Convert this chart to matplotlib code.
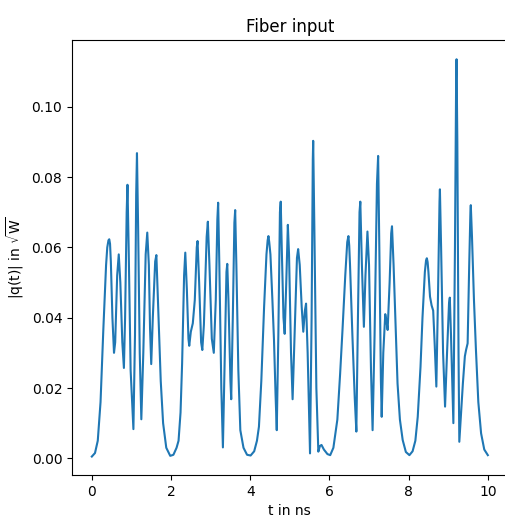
import numpy as np
import matplotlib
matplotlib.use('Agg')
import matplotlib.pyplot as plt

# values (t in ns, |q(t)| in sqrt(W))
t_ns = [0.00, 0.08, 0.15, 0.22, 0.29, 0.36, 0.39, 0.42, 0.44, 0.46, 0.48, 0.52, 0.56, 0.59,
        0.64, 0.68, 0.72, 0.77, 0.81, 0.84, 0.88, 0.90, 0.93, 0.98, 1.05, 1.09,
        1.12, 1.14, 1.17, 1.21, 1.25, 1.30, 1.36, 1.40, 1.44, 1.47, 1.50, 1.54,
        1.60, 1.63, 1.67, 1.74, 1.80, 1.88, 1.98, 2.06, 2.14, 2.19, 2.24, 2.28,
        2.33, 2.36, 2.40, 2.44, 2.46, 2.50, 2.55, 2.60, 2.65, 2.67, 2.71, 2.76,
        2.79, 2.83, 2.90, 2.93, 2.97, 3.03, 3.08, 3.13, 3.17, 3.19, 3.22, 3.27,
        3.31, 3.35, 3.40, 3.42, 3.45, 3.50, 3.52, 3.56, 3.60, 3.62, 3.65, 3.70,
        3.75, 3.83, 3.92, 4.01, 4.10, 4.17, 4.22, 4.28, 4.35, 4.41, 4.44, 4.46, 4.48, 4.51,
        4.56, 4.60, 4.64, 4.67, 4.71, 4.75, 4.77, 4.80, 4.84, 4.87, 4.91, 4.95,
        4.98, 5.03, 5.07, 5.12, 5.18, 5.21, 5.25, 5.30, 5.34, 5.38, 5.41, 5.45,
        5.51, 5.55, 5.58, 5.59, 5.62, 5.67, 5.72, 5.76, 5.80, 5.86, 5.95, 6.02,
        6.10, 6.20, 6.27, 6.33, 6.40, 6.45, 6.48, 6.50, 6.52, 6.58, 6.64, 6.68, 6.72,
        6.76, 6.78, 6.82, 6.87, 6.91, 6.96, 7.00, 7.05, 7.09, 7.14, 7.20, 7.23,
        7.26, 7.30, 7.32, 7.36, 7.41, 7.44, 7.47, 7.52, 7.56, 7.58, 7.62, 7.67,
        7.72, 7.78, 7.85, 7.93, 8.02, 8.10, 8.17, 8.23, 8.30, 8.35, 8.41, 8.44, 8.46,
        8.48, 8.50, 8.54, 8.58, 8.62, 8.66, 8.70, 8.74, 8.78, 8.79, 8.82, 8.87, 8.92,
        8.97, 9.02, 9.04, 9.07, 9.13, 9.17, 9.20, 9.21, 9.23, 9.26, 9.28, 9.32,
        9.37, 9.42, 9.45, 9.49, 9.53, 9.56, 9.57, 9.60, 9.65, 9.70, 9.76, 9.83,
        9.91, 10.00]
amp = [0.0005, 0.0015, 0.005, 0.016, 0.0365, 0.055, 0.0600, 0.0620, 0.0623, 0.0610, 0.056, 0.040, 0.030, 0.033,
       0.052, 0.058, 0.050, 0.033, 0.0257, 0.040, 0.070, 0.0778, 0.060, 0.025, 0.0083, 0.035,
       0.075, 0.0868, 0.065, 0.030, 0.0111, 0.030, 0.058, 0.0642, 0.055, 0.037, 0.0268, 0.040,
       0.056, 0.0578, 0.045, 0.022, 0.010, 0.003, 0.0007, 0.001, 0.003, 0.005, 0.013, 0.027,
       0.052, 0.0585, 0.048, 0.034, 0.032, 0.036, 0.0384, 0.045, 0.060, 0.0618, 0.050, 0.033,
       0.0308, 0.038, 0.063, 0.0673, 0.055, 0.034, 0.030, 0.045, 0.068, 0.0727, 0.055, 0.020,
       0.0031, 0.025, 0.053, 0.0553, 0.045, 0.022, 0.0168, 0.040, 0.067, 0.0706, 0.055, 0.025,
       0.008, 0.003, 0.001, 0.0008, 0.002, 0.005, 0.009, 0.022, 0.043, 0.058, 0.0620, 0.0632, 0.0615, 0.058,
       0.045, 0.0337, 0.018, 0.008, 0.035, 0.070, 0.073, 0.058, 0.040, 0.0354, 0.050, 0.0664,
       0.058, 0.030, 0.0168, 0.035, 0.057, 0.0595, 0.055, 0.043, 0.036, 0.042, 0.044, 0.030,
       0.0014, 0.040, 0.085, 0.0903, 0.065, 0.020, 0.0019, 0.0035, 0.0038, 0.0025, 0.0012, 0.0009,
       0.003, 0.011, 0.024, 0.0365, 0.052, 0.0615, 0.0632, 0.0605, 0.055, 0.035, 0.017, 0.0076, 0.040,
       0.070, 0.073, 0.055, 0.0374, 0.052, 0.0645, 0.055, 0.025, 0.008, 0.035, 0.078, 0.086,
       0.060, 0.022, 0.0118, 0.030, 0.041, 0.039, 0.0365, 0.050, 0.064, 0.066, 0.055, 0.038,
       0.0213, 0.011, 0.0052, 0.0018, 0.0009, 0.002, 0.005, 0.0118, 0.026, 0.040, 0.053, 0.0563, 0.0569,
       0.0558, 0.053, 0.046, 0.0435, 0.042, 0.032, 0.0204, 0.045, 0.073, 0.0765, 0.060, 0.030, 0.0147,
       0.030, 0.044, 0.0457, 0.035, 0.010, 0.060, 0.108, 0.1135, 0.090, 0.030, 0.0047, 0.012,
       0.0213, 0.029, 0.0308, 0.0327, 0.055, 0.070, 0.072, 0.063, 0.045, 0.0308, 0.016, 0.0071,
       0.0025, 0.0009]

fig = plt.figure(figsize=(5.051, 5.251), dpi=100)
ax = fig.add_axes([0.1426, 0.0952, 0.8624, 0.8286])
ax.plot(t_ns, amp, color='tab:blue', linewidth=1.5)
ax.set_xlim(-0.5, 10.5)
ax.set_ylim(-0.00475, 0.119)
ax.set_xticks([0, 2, 4, 6, 8, 10])
ax.set_yticks(np.arange(0, 0.11, 0.02))
ax.spines['right'].set_visible(False)  # sits off the cropped canvas in the original
ax.set_title('Fiber input')
ax.set_xlabel('t in ns')
ax.set_ylabel(r'|q(t)| in $\sqrt{\rm W}$')

fig.savefig('out.png', dpi=100)
